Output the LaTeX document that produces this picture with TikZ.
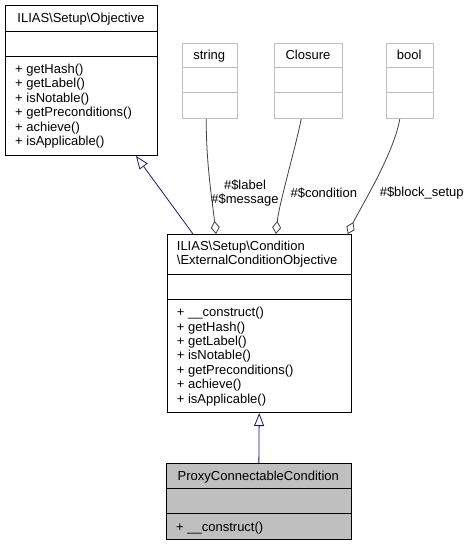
\documentclass[tikz,border=0pt]{standalone}
\usepackage{fontspec}
\setmainfont{Liberation Sans}
\usetikzlibrary{arrows.meta}
\definecolor{edgeblue}{HTML}{191970}
\definecolor{aggrey}{HTML}{404040}
\definecolor{boxgrey}{HTML}{BFBFBF}
\begin{document}
\begin{tikzpicture}[x=1pt,y=-1pt,
  every node/.style={font=\fontsize{13}{14.3}\selectfont, inner sep=0pt},
  cls/.style={draw=black, line width=1pt, anchor=north west, minimum height=10pt},
  typ/.style={draw=boxgrey, line width=1pt, anchor=north west},
  sepline/.style={line width=1pt},
  gsep/.style={line width=1pt, draw=boxgrey},
  txt/.style={anchor=base},
  mtxt/.style={anchor=base west},
  inh/.style={draw=edgeblue, line width=0.8pt, -{Triangle[open, length=13pt, width=10pt, fill=white]}},
  agg/.style={draw=aggrey, line width=0.8pt, -{Diamond[open, length=13pt, width=9pt, fill=white]}},
  elabel/.style={align=center, font=\fontsize{13}{13.3}\selectfont}
]
\useasboundingbox (0,0) rectangle (471,545);

% ILIAS\Setup\Objective
\node[cls, minimum width=152pt, minimum height=150pt] (obj) at (5,5) {};
\draw[sepline] (5,32) -- (157,32);
\draw[sepline] (5,57) -- (157,57);
\node[txt] (objname) at (81,23) {ILIAS\textbackslash Setup\textbackslash Objective};
\foreach \t [count=\i from 0] in {getHash(), getLabel(), isNotable(), getPreconditions(), achieve(), isApplicable()}
  \node[mtxt] (objm\i) at (15, 73.6+14.4*\i) {+ \t};

% type boxes
\node[typ, minimum width=55pt, minimum height=75.3pt] (string) at (181.7,42.7) {};
\draw[gsep] (181.7,68) -- (236.7,68);
\draw[gsep] (181.7,93) -- (236.7,93);
\node[txt] (stringname) at (209.2,60) {string};

\node[typ, minimum width=68pt, minimum height=75.3pt] (closure) at (274,42.7) {};
\draw[gsep] (274,68) -- (342,68);
\draw[gsep] (274,93) -- (342,93);
\node[txt] (closurename) at (308,60) {Closure};

\node[typ, minimum width=47pt, minimum height=75.3pt] (bool) at (385.7,42.7) {};
\draw[gsep] (385.7,68) -- (432.7,68);
\draw[gsep] (385.7,93) -- (432.7,93);
\node[txt] (boolname) at (409.2,60) {bool};

% ExternalConditionObjective
\node[cls, minimum width=184pt, minimum height=178pt] (ext) at (166.7,234) {};
\draw[sepline] (166.7,274) -- (350.7,274);
\draw[sepline] (166.7,299) -- (350.7,299);
\node[mtxt] (extname1) at (176.7,250) {ILIAS\textbackslash Setup\textbackslash Condition};
\node[mtxt] (extname2) at (176.7,264.3) {\textbackslash ExternalConditionObjective};
\foreach \t [count=\i from 0] in {\_\_construct(), getHash(), getLabel(), isNotable(), getPreconditions(), achieve(), isApplicable()}
  \node[mtxt] (extm\i) at (176.7, 316.7+14.4*\i) {+ \t};

% ProxyConnectableCondition
\node[cls, fill=boxgrey, minimum width=184.7pt, minimum height=76pt] (proxy) at (166,463) {};
\draw[sepline] (166,488.3) -- (350.7,488.3);
\draw[sepline] (166,513.5) -- (350.7,513.5);
\node[txt] (proxyname) at (258.3,480) {ProxyConnectableCondition};
\node[mtxt] (proxym0) at (176,531) {+ \_\_construct()};

% inheritance
\draw[inh] ([xshift=26.3pt]ext.north west) -- ([xshift=131pt]obj.south west);
\draw[inh] (proxy.north) -- (ext.south);

% aggregation
\draw[agg] ([xshift=-3.5pt]string.south) .. controls +(0,45) and +(-4,-35) .. ([xshift=49.3pt]ext.north west);
\draw[agg] ([xshift=-7.3pt]closure.south) .. controls +(-6,30) and +(3,-30) .. ([xshift=109.3pt]ext.north west);
\draw[agg] ([xshift=-9.9pt]bool.south) .. controls +(-6,35) and +(12,-25) .. ([xshift=-4pt]ext.north east);

% edge labels
\node[elabel] (lblmsg) at (245,193) {\#\$label\\\#\$message};
\node[elabel] (lblcond) at (323.8,193) {\#\$condition};
\node[elabel] (lblblock) at (421.7,193) {\#\$block\_setup};
\end{tikzpicture}
\end{document}
